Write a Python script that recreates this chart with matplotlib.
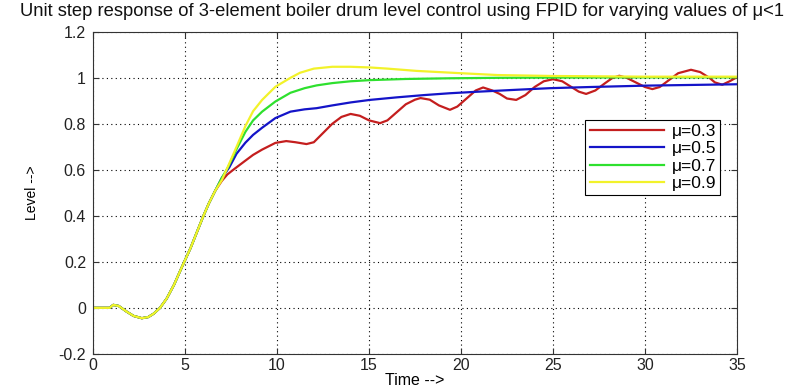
import matplotlib
matplotlib.use("Agg")
import matplotlib.pyplot as plt

plt.rcParams['font.family'] = ['Liberation Sans', 'DejaVu Sans']

# common initial segment (all four responses overlap here)
t_common = [0, 0.9, 1.1, 1.4, 1.8, 2.2, 2.65, 3.0, 3.3, 3.64, 4.0, 4.4, 4.9, 5.3, 5.6, 6.0, 6.3, 6.64]
y_common = [0, 0, 0.013, 0.008, -0.015, -0.035, -0.045, -0.04, -0.025, 0, 0.04, 0.1, 0.19, 0.26, 0.32, 0.40,
            0.455, 0.509]

t_red = [7.0, 7.3, 7.7, 8.28, 8.7, 9.19, 9.91, 10.5, 11.0, 11.6, 12.0, 12.5, 13.0, 13.5, 14.0,
         14.5, 15.0, 15.6, 16.0, 16.5, 17.0, 17.5, 17.8, 18.3, 18.8, 19.4, 19.8, 20.3, 20.8, 21.2,
         21.7, 22.1, 22.5, 23.0, 23.5, 24.0, 24.5, 25.0, 25.5, 26.0, 26.4, 26.8, 27.3, 27.8, 28.2,
         28.6, 29.0, 29.5, 30.0, 30.4, 30.8, 31.3, 31.8, 32.5, 33.0, 33.5, 33.8, 34.2, 34.6, 35.0]
y_red = [0.552, 0.58, 0.605, 0.640, 0.665, 0.688, 0.717, 0.725, 0.72, 0.712, 0.72, 0.76, 0.80, 0.83, 0.843,
         0.835, 0.815, 0.803, 0.815, 0.85, 0.885, 0.905, 0.912, 0.905, 0.88, 0.861, 0.875, 0.91, 0.945, 0.958,
         0.945, 0.93, 0.91, 0.904, 0.925, 0.96, 0.985, 0.994, 0.985, 0.96, 0.94, 0.93, 0.945, 0.975, 0.998,
         1.009, 1.0, 0.98, 0.96, 0.951, 0.96, 0.99, 1.02, 1.035, 1.025, 1.0, 0.98, 0.97, 0.985, 1.003]

t_blue = [7.0, 7.4, 7.8, 8.28, 8.7, 9.19, 9.91, 10.73, 11.5, 12.15, 13, 14, 15.05, 16.5, 18, 19.4, 21, 23,
          24.84, 27, 30, 32.5, 35]
y_blue = [0.565, 0.61, 0.67, 0.718, 0.752, 0.783, 0.825, 0.853, 0.863, 0.868, 0.88, 0.893, 0.904, 0.915,
          0.925, 0.933, 0.94, 0.948, 0.955, 0.96, 0.966, 0.969, 0.972]

t_green = [7.0, 7.33, 7.8, 8.28, 8.7, 9.19, 9.91, 10.73, 11.5, 12.15, 13, 14, 15.05, 17, 19.4, 22, 25, 30, 35]
y_green = [0.565, 0.61, 0.69, 0.765, 0.815, 0.853, 0.897, 0.935, 0.955, 0.967, 0.977, 0.985, 0.99, 0.995,
           0.998, 1.0, 1.001, 1.002, 1.002]

t_yellow = [7.0, 7.28, 7.8, 8.28, 8.7, 9.19, 9.91, 10.73, 11.25, 12, 13, 14, 15.05, 16, 17.6, 20, 22, 25, 30, 35]
y_yellow = [0.555, 0.605, 0.70, 0.79, 0.855, 0.904, 0.961, 1.0, 1.022, 1.04, 1.048, 1.048, 1.045, 1.04, 1.03,
            1.02, 1.012, 1.008, 1.005, 1.005]

labels = ['\u03bc=0.3', '\u03bc=0.5', '\u03bc=0.7', '\u03bc=0.9']
colors = ['#c41e1e', '#1414c8', '#2ee02e', '#f2f22a']

fig = plt.figure(figsize=(8.09, 3.88), dpi=100)
ax = fig.add_axes([0.115, 0.088, 0.796, 0.830])

series = [(t_red, y_red), (t_blue, y_blue), (t_green, y_green), (t_yellow, y_yellow)]
for (t, y), c, lab in zip(series, colors, labels):
    ax.plot(t_common + t, y_common + y, color=c, lw=1.6, label=lab)

ax.set_xlim(0, 35)
ax.set_ylim(-0.2, 1.2)
ax.set_xticks([0, 5, 10, 15, 20, 25, 30, 35])
ax.set_yticks([-0.2, 0, 0.2, 0.4, 0.6, 0.8, 1.0, 1.2])
ax.set_yticklabels(['-0.2', '0', '0.2', '0.4', '0.6', '0.8', '1', '1.2'])
ax.grid(True, linestyle=(0, (1, 3)), color='black', linewidth=0.8)
ax.tick_params(direction='in', top=True, right=True, labelsize=11.5, length=4, colors='#333333',
               labelcolor='#222222', pad=5)
ax.tick_params(axis='x', pad=3)
for s in ax.spines.values():
    s.set_color('#333333')

fig.text(0.497, 0.992,
         'Unit step response of 3-element boiler drum level control using FPID for varying values of \u03bc<1',
         fontsize=13.2, ha='center', va='top', color='#111111')
ax.set_xlabel('Time -->', fontsize=11.5, labelpad=0)
ax.set_ylabel('Level -->', fontsize=10, labelpad=14)

leg = ax.legend(loc='upper right', bbox_to_anchor=(0.974, 0.727), fancybox=False, edgecolor='black',
                framealpha=1, fontsize=12.5, borderaxespad=0, handlelength=4.3, labelspacing=0.12,
                borderpad=0.25, handletextpad=0.4)
leg.get_frame().set_linewidth(0.8)

fig.savefig('out.png', dpi=100)
